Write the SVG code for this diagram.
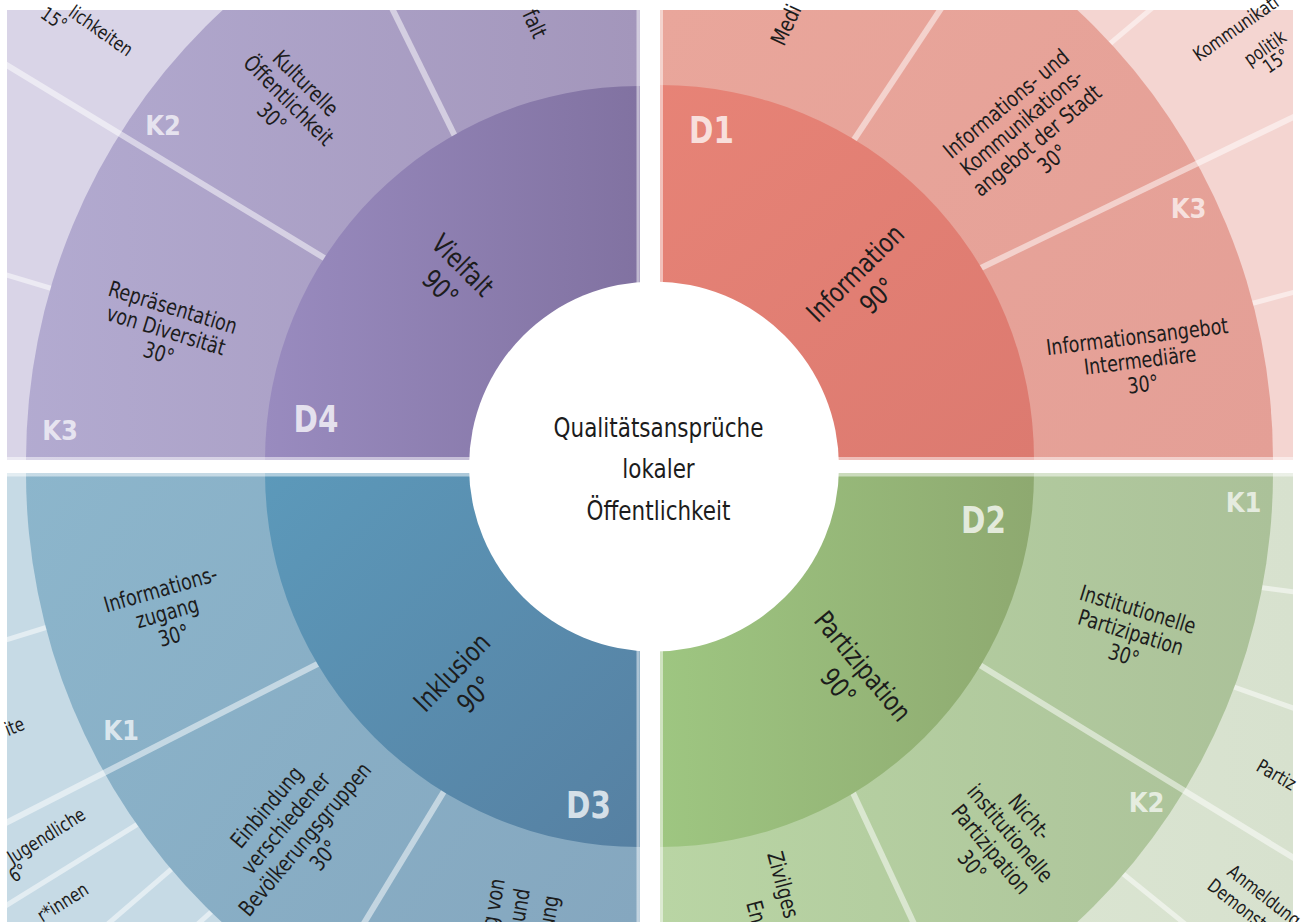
<svg xmlns="http://www.w3.org/2000/svg" width="1301" height="922" viewBox="0 0 1301 922">
<style>
text{font-family:'DejaVu Sans Condensed','Liberation Sans Narrow','Liberation Sans',sans-serif;fill:#1c1c1c}
.l1{font-size:27px;text-anchor:middle}
.l2{font-size:22px;text-anchor:middle}
.l3{font-size:19px;text-anchor:middle}
.st{text-anchor:start}.en{text-anchor:end}
.ctr{font-size:27px;text-anchor:middle}
.dl{font-size:38px;font-weight:bold;fill:#fff;fill-opacity:0.75;text-anchor:middle}
.kl{font-size:27px;font-weight:bold;fill:#fff;fill-opacity:0.7;text-anchor:middle}
.dv{stroke:#fff;stroke-opacity:0.5;stroke-width:6;fill:none}
.dv3{stroke:#fff;stroke-opacity:0.5;stroke-width:5;fill:none}
.strip{fill:#fff;fill-opacity:0.5}
</style>
<defs>
<clipPath id="cTL"><rect x="7" y="10" width="632.5" height="450"/></clipPath>
<clipPath id="cTR"><rect x="660" y="10" width="633" height="450"/></clipPath>
<clipPath id="cBL"><rect x="7" y="473" width="632.5" height="449"/></clipPath>
<clipPath id="cBR"><rect x="660" y="473" width="633" height="449"/></clipPath>
<linearGradient id="gTL1" gradientUnits="userSpaceOnUse" x1="265" y1="0" x2="639" y2="0"><stop offset="0" stop-color="#998bbf"/><stop offset="1" stop-color="#8172a1"/></linearGradient>
<linearGradient id="gTL2" gradientUnits="userSpaceOnUse" x1="7" y1="0" x2="639" y2="0"><stop offset="0" stop-color="#b3abd1"/><stop offset="1" stop-color="#a396bb"/></linearGradient>
<linearGradient id="gTR1" gradientUnits="userSpaceOnUse" x1="660" y1="10" x2="1034" y2="459"><stop offset="0" stop-color="#e88477"/><stop offset="1" stop-color="#dc7a70"/></linearGradient>
<linearGradient id="gTR2" gradientUnits="userSpaceOnUse" x1="660" y1="10" x2="1273" y2="459"><stop offset="0" stop-color="#e9a69b"/><stop offset="1" stop-color="#e49f96"/></linearGradient>
<linearGradient id="gBL1" gradientUnits="userSpaceOnUse" x1="265" y1="473" x2="639" y2="848"><stop offset="0" stop-color="#5c99ba"/><stop offset="1" stop-color="#5680a2"/></linearGradient>
<linearGradient id="gBL2" gradientUnits="userSpaceOnUse" x1="7" y1="473" x2="639" y2="922"><stop offset="0" stop-color="#8cb6cc"/><stop offset="1" stop-color="#85a7bf"/></linearGradient>
<linearGradient id="gBR1" gradientUnits="userSpaceOnUse" x1="660" y1="0" x2="1034" y2="0"><stop offset="0" stop-color="#9ec681"/><stop offset="1" stop-color="#8ea970"/></linearGradient>
<linearGradient id="gBR2" gradientUnits="userSpaceOnUse" x1="660" y1="0" x2="1273" y2="0"><stop offset="0" stop-color="#b9d5a4"/><stop offset="1" stop-color="#abc199"/></linearGradient>
<linearGradient id="gBR3" gradientUnits="userSpaceOnUse" x1="660" y1="0" x2="1293" y2="0"><stop offset="0" stop-color="#dfead6"/><stop offset="1" stop-color="#d7e1ce"/></linearGradient>
</defs>

<!-- D4 Vielfalt (top-left) -->
<g id="quadrant-d4" clip-path="url(#cTL)">
<rect x="7" y="10" width="633" height="450" fill="#d9d4e7"/>
<line class="dv3" x1="-10" y1="270" x2="90" y2="300"/>
<circle cx="639" cy="460" r="613" fill="url(#gTL2)"/>
<line class="dv" x1="480" y1="187" x2="385" y2="-6"/>
<line class="dv" x1="400" y1="304" x2="-10" y2="55"/>
<circle cx="639" cy="460" r="374" fill="url(#gTL1)"/>
<rect class="strip" x="636.5" y="10" width="3" height="450"/>
<rect class="strip" x="7" y="457" width="633" height="3"/>
</g>
<g id="node-d4-labels">
<g transform="translate(452,276) rotate(45) scale(0.886,1)"><text class="l1" y="-6">Vielfalt</text><text class="l1" y="26">90°</text></g>
<g transform="translate(289,100) rotate(45) scale(0.886,1)"><text class="l2" y="-16">Kulturelle</text><text class="l2" y="8">Öffentlichkeit</text><text class="l2" y="32">30°</text></g>
<g transform="translate(166,330) rotate(17) scale(0.886,1)"><text class="l2" y="-16">Repräsentation</text><text class="l2" y="8">von Diversität</text><text class="l2" y="32">30°</text></g>
<text class="l2 en" transform="translate(534,40) rotate(65) scale(0.886,1)">falt</text>
<text class="l3 en" transform="translate(127,57) rotate(35) scale(0.886,1)">lichkeiten</text>
<text class="l3" transform="translate(54,19) rotate(35) scale(0.886,1)" y="6.5">15°</text>
<text class="dl" transform="translate(316,432) scale(0.86,1)">D4</text>
<text class="kl" x="163" y="135">K2</text>
<text class="kl" x="60" y="440">K3</text>
</g>

<!-- D1 Information (top-right) -->
<g id="quadrant-d1" clip-path="url(#cTR)">
<rect x="660" y="10" width="633" height="450" fill="#f4d5d1"/>
<line class="dv3" x1="1080" y1="69" x2="1170" y2="-7"/>
<line class="dv3" x1="1220" y1="312" x2="1310" y2="288"/>
<circle cx="660" cy="459" r="613" fill="url(#gTR2)"/>
<line class="dv" x1="820" y1="191" x2="952" y2="-8"/>
<line class="dv" x1="900" y1="307" x2="1310" y2="109"/>
<circle cx="660" cy="459" r="374" fill="url(#gTR1)"/>
<rect class="strip" x="660" y="10" width="3" height="450"/>
<rect class="strip" x="660" y="457" width="633" height="3"/>
</g>
<g id="node-d1-labels">
<g transform="translate(866,284) rotate(-45) scale(0.886,1)"><text class="l1" y="-6">Information</text><text class="l1" y="26">90°</text></g>
<g transform="translate(1029,131) rotate(-40) scale(0.886,1)"><text class="l2" y="-28">Informations- und</text><text class="l2" y="-4">Kommunikations-</text><text class="l2" y="20">angebot der Stadt</text><text class="l2" y="44">30°</text></g>
<g transform="translate(1140,360) rotate(-7) scale(0.886,1)"><text class="l2" y="-16">Informationsangebot</text><text class="l2" y="8">Intermediäre</text><text class="l2" y="32">30°</text></g>
<text class="l2 st" transform="translate(784,47) rotate(-65) scale(0.886,1)">Medi</text>
<text class="l3 st" transform="translate(1199,62) rotate(-35) scale(0.886,1)">Kommunikati</text>
<text class="l3" transform="translate(1265,48) rotate(-35) scale(0.886,1)" y="6.5">politik</text>
<text class="l3" transform="translate(1276,61) rotate(-35) scale(0.886,1)" y="6.5">15°</text>
<text class="dl" transform="translate(711.5,143) scale(0.86,1)">D1</text>
<text class="kl" x="1188.5" y="218">K3</text>
</g>

<!-- D3 Inklusion (bottom-left) -->
<g id="quadrant-d3" clip-path="url(#cBL)">
<rect x="7" y="473" width="633" height="449" fill="#c6dae5"/>
<line class="dv3" x1="-10" y1="645" x2="80" y2="617"/>
<line class="dv3" x1="-10" y1="915.5" x2="200" y2="785.5"/>
<line class="dv3" x1="95" y1="935" x2="230" y2="818.6"/>
<line class="dv3" x1="190" y1="931" x2="260" y2="868"/>
<circle cx="639" cy="473" r="613" fill="url(#gBL2)"/>
<line class="dv" x1="400" y1="622" x2="-10" y2="831"/>
<line class="dv" x1="480" y1="732" x2="355" y2="938"/>
<circle cx="639" cy="473" r="374" fill="url(#gBL1)"/>
<rect class="strip" x="7" y="473" width="633" height="3.5"/>
<rect class="strip" x="636.5" y="473" width="3" height="449"/>
</g>
<g id="node-d3-labels">
<g transform="translate(463,683) rotate(-46) scale(0.886,1)"><text class="l1" y="-6">Inklusion</text><text class="l1" y="26">90°</text></g>
<g transform="translate(167,612) rotate(-16) scale(0.886,1)"><text class="l2" y="-16">Informations-</text><text class="l2" y="8">zugang</text><text class="l2" y="32">30°</text></g>
<g transform="translate(295,831) rotate(-50) scale(0.886,1)"><text class="l2" y="-29.5">Einbindung</text><text class="l2" y="-4.5">verschiedener</text><text class="l2" y="20.5">Bevölkerungsgruppen</text><text class="l2" y="45.5">30°</text></g>
<text class="l2 en" transform="translate(505,880) rotate(-80) scale(0.886,1)">g von</text>
<text class="l2 en" transform="translate(530,890) rotate(-80) scale(0.886,1)">und</text>
<text class="l2 en" transform="translate(559,897) rotate(-80) scale(0.886,1)">ung</text>
<text class="l3 en" transform="translate(26,729) rotate(-22) scale(0.886,1)">ite</text>
<text class="l3 en" transform="translate(87,818) rotate(-32) scale(0.886,1)">Jugendliche</text>
<text class="l3" transform="translate(18,873) rotate(-32) scale(0.886,1)" y="6.5">6°</text>
<text class="l3 en" transform="translate(90,893) rotate(-32) scale(0.886,1)">r*innen</text>
<text class="dl" transform="translate(588.5,818) scale(0.86,1)">D3</text>
<text class="kl" x="121" y="740">K1</text>
</g>

<!-- D2 Partizipation (bottom-right) -->
<g id="quadrant-d2" clip-path="url(#cBR)">
<rect x="660" y="473" width="633" height="449" fill="url(#gBR3)"/>
<line class="dv3" x1="1200" y1="675" x2="1310" y2="714"/>
<line class="dv3" x1="1090" y1="847" x2="1200" y2="936"/>
<line class="dv3" x1="1220" y1="582" x2="1310" y2="594"/>
<circle cx="660" cy="473" r="613" fill="url(#gBR2)"/>
<line class="dv" x1="900" y1="616" x2="1310" y2="868"/>
<line class="dv" x1="820" y1="722" x2="922" y2="941"/>
<circle cx="660" cy="473" r="374" fill="url(#gBR1)"/>
<rect class="strip" x="660" y="473" width="633" height="3.5"/>
<rect class="strip" x="660" y="473" width="3" height="449"/>
</g>
<g id="node-d2-labels">
<g transform="translate(851,676) rotate(50) scale(0.886,1)"><text class="l1" y="-6">Partizipation</text><text class="l1" y="26">90°</text></g>
<g transform="translate(1131,632) rotate(17) scale(0.886,1)"><text class="l2" y="-16">Institutionelle</text><text class="l2" y="8">Partizipation</text><text class="l2" y="32">30°</text></g>
<g transform="translate(1001,841) rotate(50) scale(0.886,1)"><text class="l2" y="-29.5">Nicht-</text><text class="l2" y="-4.5">institutionelle</text><text class="l2" y="20.5">Partizipation</text><text class="l2" y="45.5">30°</text></g>
<text class="l2 st" transform="translate(767,854) rotate(75) scale(0.886,1)">Zivilges</text>
<text class="l2 st" transform="translate(746,903) rotate(75) scale(0.886,1)">En</text>
<text class="l3 st" transform="translate(1255,770) rotate(30) scale(0.886,1)">Partiz</text>
<text class="l3 st" transform="translate(1226,874) rotate(38) scale(0.886,1)">Anmeldung</text>
<text class="l3 st" transform="translate(1206,888) rotate(38) scale(0.886,1)">Demonstr</text>
<text class="dl" transform="translate(983.5,533) scale(0.86,1)">D2</text>
<text class="kl" x="1243.5" y="512">K1</text>
<text class="kl" x="1146.5" y="812">K2</text>
</g>

<!-- centre -->
<g id="node-center">
<circle cx="654" cy="466.5" r="185" fill="#fff"/>
<g transform="translate(658.5,0) scale(0.886,1)">
<text class="ctr" x="0" y="437">Qualitätsansprüche</text>
<text class="ctr" x="0" y="478">lokaler</text>
<text class="ctr" x="0" y="520">Öffentlichkeit</text>
</g>
</g>
</svg>
